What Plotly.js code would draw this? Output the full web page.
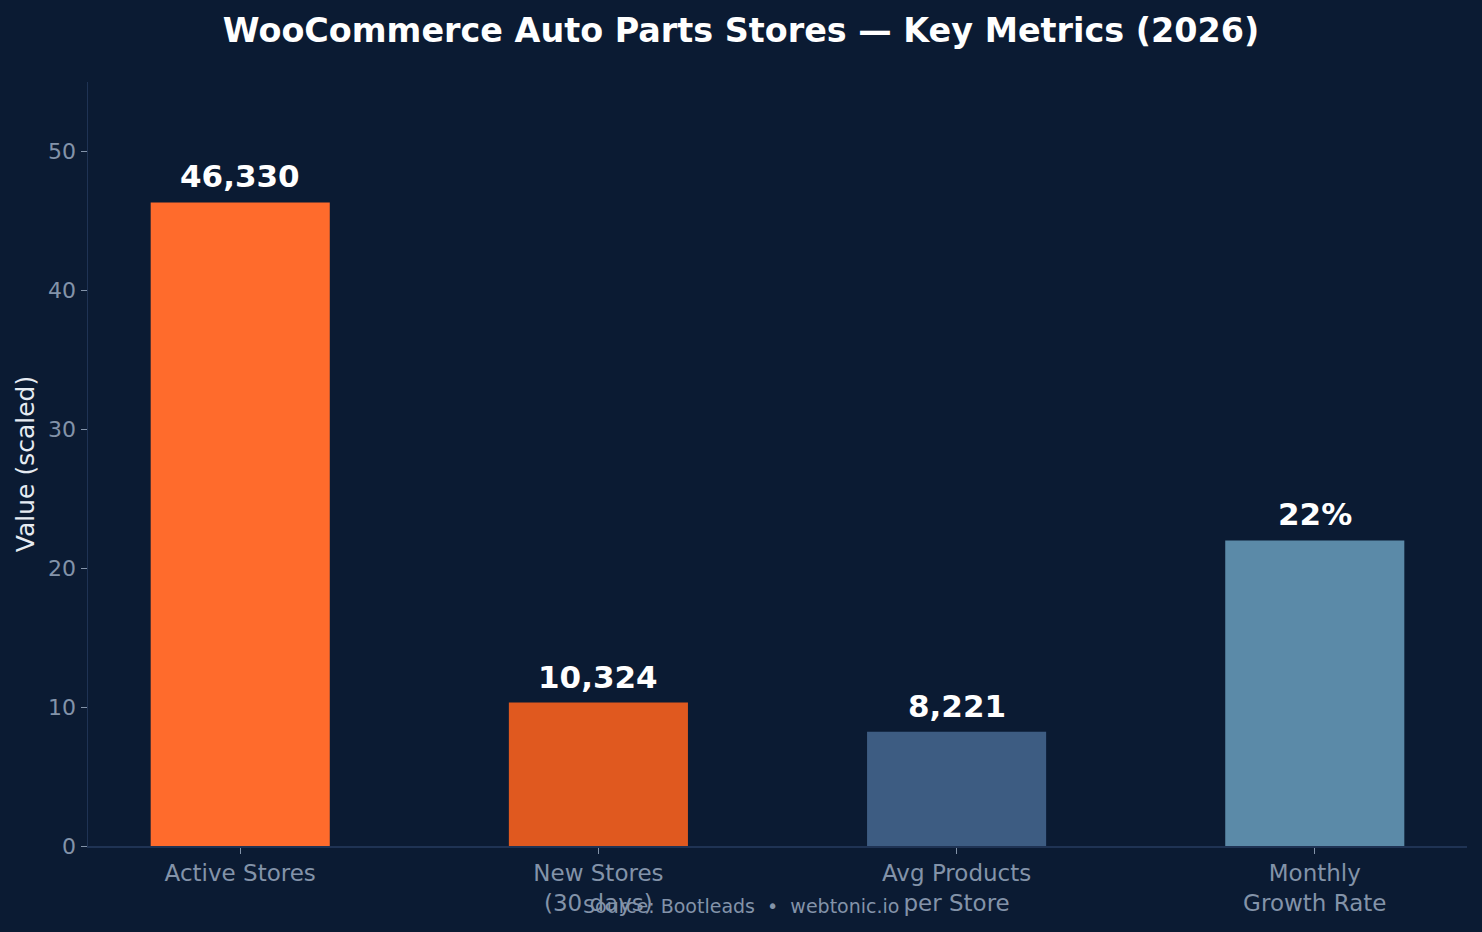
<!DOCTYPE html>
<html>
<head>
<meta charset="utf-8">
<script src="https://cdn.plot.ly/plotly-3.0.1.min.js"></script>
<style>html,body{margin:0;padding:0;background:#0b1b33;}#chart{width:1482px;height:932px;}</style>
</head>
<body>
<div id="chart"></div>
<script>
const categories = ["Active Stores", "New Stores<br>(30 days)", "Avg Products<br>per Store", "Monthly<br>Growth Rate"];
const scaledValues = [46.33, 10.324, 8.221, 22];
const valueLabels = ["46,330", "10,324", "8,221", "22%"];
const barColors = ["#ff6b2c", "#e0591f", "#3d5c82", "#5b8aa8"];

const bg = "#0b1b33";
const axisColor = "#1f3354";
const tickColor = "#8393a9";

const trace = {
  type: "bar",
  x: [0, 1, 2, 3],
  y: scaledValues,
  width: 0.5,
  marker: {color: barColors, line: {width: 0}},
  hoverinfo: "skip"
};

const annotations = scaledValues.map((v, i) => ({
  x: i, y: v, xref: "x", yref: "y",
  text: valueLabels[i], showarrow: false,
  yanchor: "bottom", yshift: 6,
  font: {family: "DejaVu Sans", size: 31, color: "#ffffff", weight: "bold"}
}));
annotations.push({
  x: 0.5, y: 0, xref: "paper", yref: "paper", yanchor: "middle",
  xanchor: "center", yshift: -60, xshift: -37,
  text: "Source: Bootleads  •  webtonic.io", showarrow: false,
  font: {family: "DejaVu Sans", size: 19, color: tickColor}
});

const layout = {
  width: 1482, height: 932,
  paper_bgcolor: bg, plot_bgcolor: bg,
  margin: {l: 88, r: 15, t: 82, b: 86},
  title: {text: "<b>WooCommerce Auto Parts Stores — Key Metrics (2026)</b>",
          x: 0.5, xanchor: "center", y: 0.968, yanchor: "middle",
          font: {family: "DejaVu Sans", size: 33.4, color: "#ffffff"}},
  xaxis: {
    range: [-0.425, 3.425], tickmode: "array", tickvals: [0, 1, 2, 3], ticktext: categories,
    showgrid: false, zeroline: false, showline: true, linecolor: axisColor, linewidth: 1.5,
    ticks: "outside", ticklen: 6, tickcolor: tickColor, tickwidth: 1,
    tickfont: {family: "DejaVu Sans", size: 23, color: tickColor}
  },
  yaxis: {
    range: [0, 55], tickvals: [0, 10, 20, 30, 40, 50],
    showgrid: false, zeroline: false, showline: true, linecolor: axisColor, linewidth: 1.5,
    ticks: "outside", ticklen: 6, tickcolor: tickColor, tickwidth: 1,
    tickfont: {family: "DejaVu Sans", size: 22, color: tickColor},
    title: {text: "Value (scaled)", standoff: 6, font: {family: "DejaVu Sans", size: 25, color: "#e6ebf2"}}
  },
  annotations: annotations,
  showlegend: false
};

Plotly.newPlot("chart", [trace], layout, {displayModeBar: false, staticPlot: true});
</script>
</body>
</html>
